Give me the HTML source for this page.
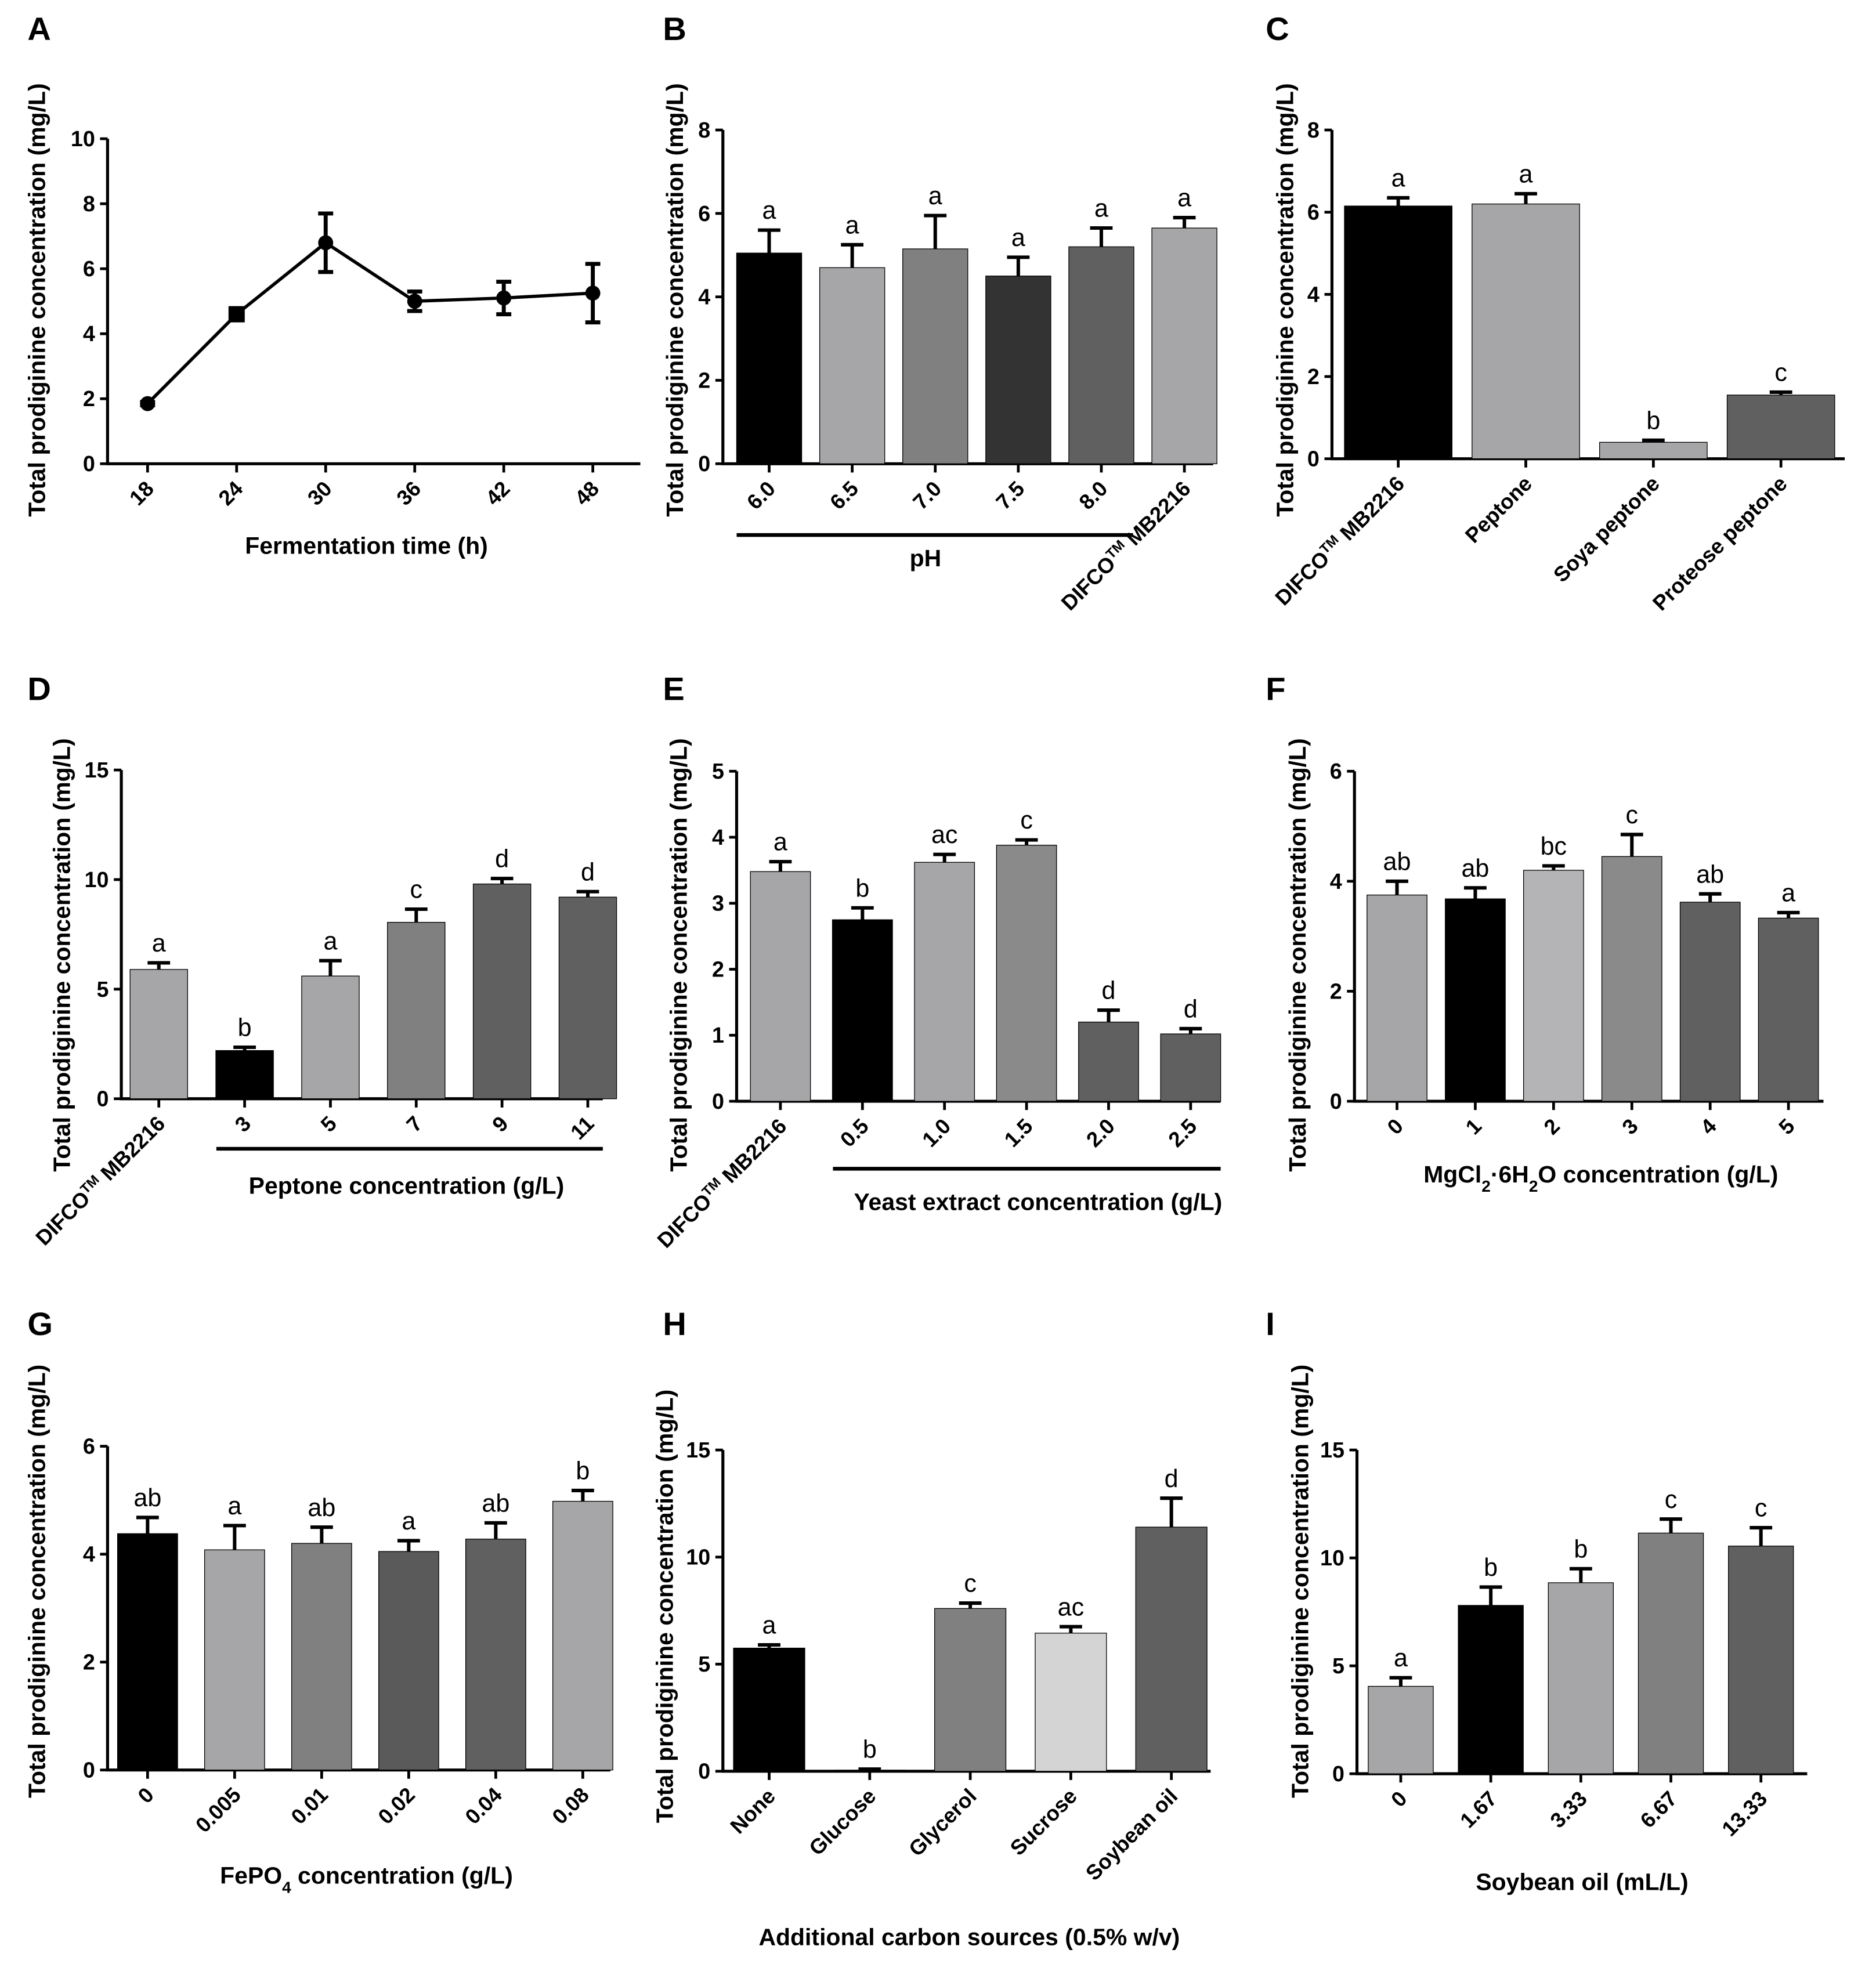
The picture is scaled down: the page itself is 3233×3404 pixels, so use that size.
<!DOCTYPE html>
<html><head><meta charset="utf-8"><style>
html,body{margin:0;padding:0;background:#fff}
svg{display:block}
text{font-family:"Liberation Sans",Arial,sans-serif}
</style></head><body>
<svg id="fig" width="3233" height="3404" viewBox="0 0 1500 1580" preserveAspectRatio="none" xmlns="http://www.w3.org/2000/svg"></svg>
<script>
// ---- data ----
const aTimes=["18","24","30","36","42","48"];
const aVals=[1.85,4.6,6.8,5.0,5.1,5.25];
const aErr=[0.05,0.15,0.9,0.3,0.5,0.9];

const bCats=["6.0","6.5","7.0","7.5","8.0","DIFCO|MB2216"];
const bVals=[5.05,4.7,5.15,4.5,5.2,5.65];
const bErr=[0.55,0.55,0.8,0.45,0.45,0.25];
const bLet=["a","a","a","a","a","a"];

const cCats=["DIFCO|MB2216","Peptone","Soya peptone","Proteose peptone"];
const cVals=[6.15,6.2,0.4,1.55];
const cErr=[0.2,0.25,0.05,0.07];
const cLet=["a","a","b","c"];

const dCats=["DIFCO|MB2216","3","5","7","9","11"];
const dVals=[5.9,2.2,5.6,8.05,9.8,9.2];
const dErr=[0.3,0.15,0.7,0.6,0.25,0.25];
const dLet=["a","b","a","c","d","d"];

const eCats=["DIFCO|MB2216","0.5","1.0","1.5","2.0","2.5"];
const eVals=[3.48,2.75,3.62,3.88,1.2,1.02];
const eErr=[0.15,0.18,0.12,0.08,0.18,0.08];
const eLet=["a","b","ac","c","d","d"];

const fCats=["0","1","2","3","4","5"];
const fVals=[3.75,3.68,4.2,4.45,3.62,3.33];
const fErr=[0.25,0.2,0.08,0.4,0.15,0.1];
const fLet=["ab","ab","bc","c","ab","a"];

const gCats=["0","0.005","0.01","0.02","0.04","0.08"];
const gVals=[4.38,4.08,4.2,4.05,4.28,4.98];
const gErr=[0.3,0.45,0.3,0.2,0.3,0.2];
const gLet=["ab","a","ab","a","ab","b"];

const hCats=["None","Glucose","Glycerol","Sucrose","Soybean oil"];
const hVals=[5.75,0.05,7.6,6.45,11.4];
const hErr=[0.15,0.05,0.25,0.3,1.35];
const hLet=["a","b","c","ac","d"];

const iCats=["0","1.67","3.33","6.67","13.33"];
const iVals=[4.05,7.8,8.85,11.15,10.55];
const iErr=[0.4,0.85,0.65,0.65,0.85];
const iLet=["a","b","b","c","c"];

const svg=document.getElementById('fig');
const NS="http://www.w3.org/2000/svg";
function mk(tag,attrs,parent){const e=document.createElementNS(NS,tag);for(const k in attrs)e.setAttribute(k,attrs[k]);(parent||svg).appendChild(e);return e;}
function txt(s,x,y,o,parent){const t=mk('text',Object.assign({x:x,y:y},o||{}),parent);t.textContent=s;return t;}

function tickLabel(g,lab,x,y){
  const t=mk('text',{x:x,y:y,'text-anchor':'end','font-size':17,'font-weight':'bold',transform:`rotate(-45 ${x} ${y})`},g);
  
  
  if(lab.indexOf('|')>=0){
    const p=lab.split('|');
    const a=mk('tspan',{},t);a.textContent=p[0];
    const b=mk('tspan',{'baseline-shift':'super','font-size':11},t);b.textContent='TM';
    const c=mk('tspan',{},t);c.textContent=' '+p[1];
  } else t.textContent=lab;
}

function panel(cfg){
  const g=mk('g',{});
  
  
  const L=txt(cfg.letter,cfg.lx,cfg.ly,{'font-size':26,'font-weight':'bold'},g);
  
  
  const yS=v=>cfg.y0-(v/cfg.ymax)*(cfg.y0-cfg.ytop);
  const xS=i=>cfg.x1+i*cfg.dx;
  const ya=mk('line',{x1:cfg.ax,y1:cfg.ytop,x2:cfg.ax,y2:cfg.y0+1,stroke:'#000','stroke-width':2.4},g);
  
  
  const xa=mk('line',{x1:cfg.ax-1,y1:cfg.y0,x2:cfg.xend,y2:cfg.y0,stroke:'#000','stroke-width':2.4},g);
  
  
  for(let v=0;v<=cfg.ymax+1e-9;v+=cfg.ystep){
    const y=yS(v);
    mk('line',{x1:cfg.ax-6,y1:y,x2:cfg.ax,y2:y,stroke:'#000','stroke-width':2.2},g);
    const t=txt(String(v),cfg.ax-10,y+6,{'text-anchor':'end','font-size':17.5,'font-weight':'bold'},g);
    
    
  }
  const yt=txt('Total prodiginine concentration (mg/L)',0,0,{'text-anchor':'middle','font-size':19,'font-weight':'bold',transform:`translate(${cfg.ytx},${cfg.yty}) rotate(-90)`},g);
  
  
  cfg.cats.forEach((c,i)=>{
    const x=xS(i);
    mk('line',{x1:x,y1:cfg.y0,x2:x,y2:cfg.y0+7,stroke:'#000','stroke-width':2.2},g);
    tickLabel(g,c,x+6,cfg.y0+21);
  });
  if(cfg.line){
    const ln=mk('line',{x1:cfg.line[0],y1:cfg.line[2],x2:cfg.line[1],y2:cfg.line[2],stroke:'#000','stroke-width':3},g);
    
    
  }
  const xt=mk('text',{x:cfg.xtx,y:cfg.xty,'text-anchor':'middle','font-size':19,'font-weight':'bold'},g);
  
  
  cfg.xtitle.forEach(p=>{const s=mk('tspan',p[1]?{'baseline-shift':'sub','font-size':13}:{},xt);s.textContent=p[0];});
  if(cfg.line_series){
    const pts=cfg.vals.map((v,i)=>xS(i)+','+yS(v)).join(' ');
    const pl=mk('polyline',{points:pts,fill:'none',stroke:'#000','stroke-width':2.6},g);
    
    
    cfg.vals.forEach((v,i)=>{
      const x=xS(i),e=cfg.err[i];
      mk('line',{x1:x,y1:yS(v+e),x2:x,y2:yS(v-e),stroke:'#000','stroke-width':3.2},g);
      mk('line',{x1:x-6,y1:yS(v+e),x2:x+6,y2:yS(v+e),stroke:'#000','stroke-width':3.2},g);
      mk('line',{x1:x-6,y1:yS(v-e),x2:x+6,y2:yS(v-e),stroke:'#000','stroke-width':3.2},g);
      let m;
      if(i===1) m=mk('rect',{x:x-6.5,y:yS(v)-6.5,width:13,height:13,fill:'#000'},g);
      else m=mk('circle',{cx:x,cy:yS(v),r:6,fill:'#000'},g);
      
      
    });
  } else {
    cfg.vals.forEach((v,i)=>{
      const x=xS(i),e=cfg.err[i],w=cfg.bw;
      const top=yS(v+e);
      mk('line',{x1:x,y1:yS(v),x2:x,y2:top,stroke:'#000','stroke-width':2.8},g);
      mk('line',{x1:x-9,y1:top,x2:x+9,y2:top,stroke:'#000','stroke-width':2.8},g);
      const r=mk('rect',{x:x-w/2,y:yS(v),width:w,height:cfg.y0-yS(v),fill:cfg.colors[i],stroke:'#000','stroke-width':0.6},g);
      
      
      const t=txt(cfg.letters[i],x,top-9,{'text-anchor':'middle','font-size':20},g);
      
      
    });
  }
}
const LG='#a6a6a8',MG='#808080',DG='#606060',VD='#333333',K='#000';

panel({letter:'A',lx:22,ly:32,ax:86,y0:371,ytop:111,ymax:10,ystep:2,x1:118,dx:71.2,xend:512,cats:aTimes,vals:aVals,err:aErr,line_series:true,ytx:36,yty:240,xtx:293,xty:443,xtitle:[['Fermentation time (h)']]});
panel({letter:'B',lx:530,ly:32,ax:578,y0:371,ytop:104,ymax:8,ystep:2,x1:615,dx:66.4,xend:970,bw:52,cats:bCats,vals:bVals,err:bErr,letters:bLet,colors:[K,LG,MG,VD,DG,LG],line:[589,906,428],ytx:546,yty:240,xtx:740,xty:453,xtitle:[['pH']]});
panel({letter:'C',lx:1012,ly:32,ax:1065,y0:367,ytop:104,ymax:8,ystep:2,x1:1118,dx:102,xend:1475,bw:86,cats:cCats,vals:cVals,err:cErr,letters:cLet,colors:[K,LG,LG,DG],ytx:1034,yty:240,xtx:0,xty:-50,xtitle:[['']]});
panel({letter:'D',lx:22,ly:560,ax:97,y0:879,ytop:616,ymax:15,ystep:5,x1:127,dx:68.6,xend:482,bw:46,cats:dCats,vals:dVals,err:dErr,letters:dLet,colors:[LG,K,LG,MG,DG,DG],line:[173,482,919],ytx:56,yty:764,xtx:325,xty:955,xtitle:[['Peptone concentration (g/L)']]});
panel({letter:'E',lx:530,ly:560,ax:589,y0:881,ytop:617,ymax:5,ystep:1,x1:624,dx:65.6,xend:976,bw:48,cats:eCats,vals:eVals,err:eErr,letters:eLet,colors:[LG,K,LG,'#8a8a8a',DG,DG],line:[666,976,935],ytx:549,yty:764,xtx:830,xty:968,xtitle:[['Yeast extract concentration (g/L)']]});
panel({letter:'F',lx:1012,ly:560,ax:1083,y0:881,ytop:617,ymax:6,ystep:2,x1:1117,dx:62.6,xend:1458,bw:48,cats:fCats,vals:fVals,err:fErr,letters:fLet,colors:[LG,K,'#b4b4b6','#8a8a8a',DG,DG],ytx:1044,yty:764,xtx:1280,xty:946,xtitle:[['MgCl'],['2',1],['·6H'],['2',1],['O concentration (g/L)']]});
panel({letter:'G',lx:22,ly:1068,ax:86,y0:1416,ytop:1157,ymax:6,ystep:2,x1:118,dx:69.6,xend:488,bw:48,cats:gCats,vals:gVals,err:gErr,letters:gLet,colors:[K,LG,MG,'#5a5a5a',DG,LG],ytx:36,yty:1265,xtx:293,xty:1507,xtitle:[['FePO'],['4',1],[' concentration (g/L)']]});
panel({letter:'H',lx:530,ly:1068,ax:578,y0:1417,ytop:1160,ymax:15,ystep:5,x1:615,dx:80.4,xend:968,bw:57,cats:hCats,vals:hVals,err:hErr,letters:hLet,colors:[K,K,MG,'#d4d4d4',DG],ytx:538,yty:1285,xtx:775,xty:1556,xtitle:[['Additional carbon sources (0.5% w/v)']]});
panel({letter:'I',lx:1012,ly:1068,ax:1085,y0:1419,ytop:1160,ymax:15,ystep:5,x1:1120,dx:72,xend:1445,bw:52,cats:iCats,vals:iVals,err:iErr,letters:iLet,colors:[LG,K,LG,MG,DG],ytx:1046,yty:1265,xtx:1265,xty:1512,xtitle:[['Soybean oil  (mL/L)']]});
</script>
</body></html>
